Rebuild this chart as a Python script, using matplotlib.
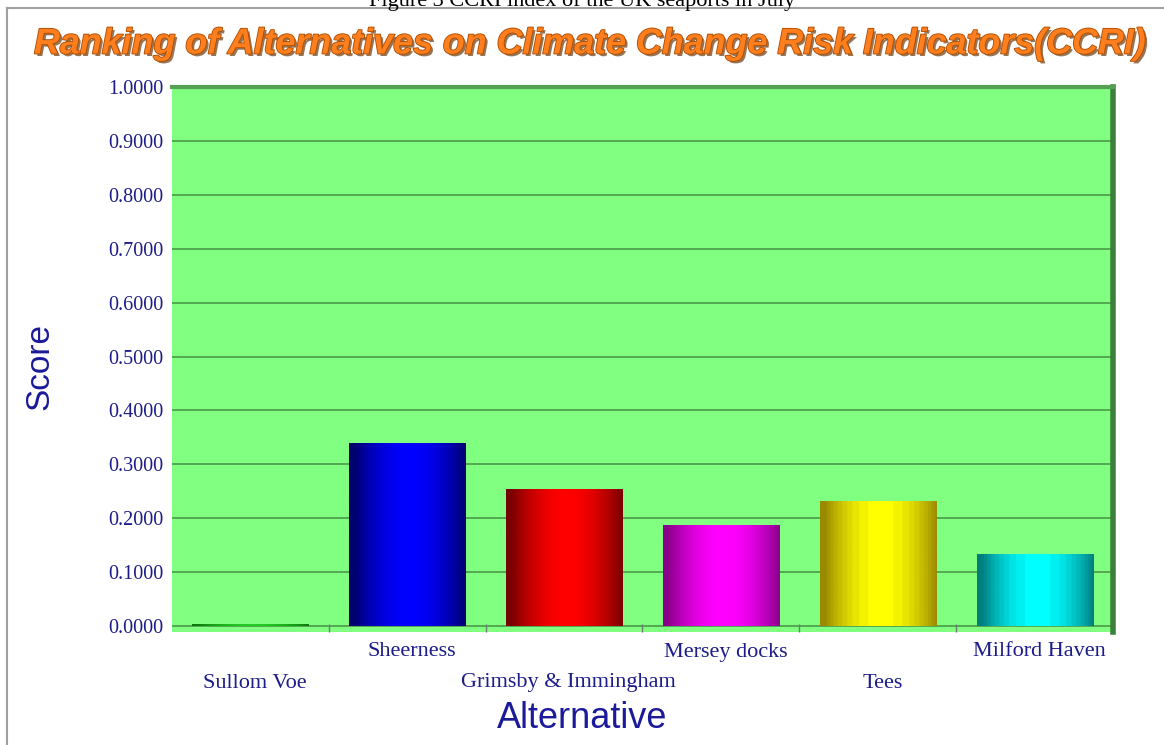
import numpy as np
import matplotlib
matplotlib.use("Agg")
import matplotlib.pyplot as plt
import matplotlib.patheffects as pe
import matplotlib.transforms as mtransforms
from matplotlib.colors import LinearSegmentedColormap

categories = ["Sullom Voe", "Sheerness", "Grimsby & Immingham", "Mersey docks", "Tees", "Milford Haven"]
scores = [0.004, 0.340, 0.255, 0.188, 0.232, 0.133]
yticks = [0.0, 0.1, 0.2, 0.3, 0.4, 0.5, 0.6, 0.7, 0.8, 0.9, 1.0]

bar_dark = ["#0a7a0a", "#00006e", "#780000", "#8a008a", "#9a8a00", "#007e80"]
bar_bright = ["#22cc22", "#0000ff", "#ff0000", "#ff00ff", "#ffff00", "#00ffff"]
banded = [False, False, False, False, True, True]

W, H = 1164, 745
fig = plt.figure(figsize=(W / 100, H / 100), dpi=100)
fig.patch.set_facecolor("white")

# outer frame
fig.add_artist(plt.Line2D([7 / W, 7 / W], [0, 1 - 8 / H], color="#a0a0a0", lw=1.5))
fig.add_artist(plt.Line2D([7 / W, 1], [1 - 8 / H, 1 - 8 / H], color="#a0a0a0", lw=1.5))

# caption cut off at the top (as in the reference)
fig.text(0.5, 1 - 1 / H, "Figure 3 CCRI index of the UK seaports in July", ha="center", va="center",
         fontsize=16, family="Liberation Serif", color="black")

left, right, top, bottom = 172, 1113, 87, 632
ax = fig.add_axes([left / W, 1 - bottom / H, (right - left) / W, (bottom - top) / H])
ax.set_facecolor("#80ff80")
ax.set_yticks(yticks)
ax.set_yticklabels([f"{v:.4f}" for v in yticks], family="Liberation Serif", fontsize=14.5, color="#1c1c8a")
ax.tick_params(axis="y", length=0, pad=6)
ax.grid(axis="y", color="#4a9a4a", lw=1.2)
ax.set_axisbelow(True)

for s in ["left", "bottom"]:
    ax.spines[s].set_visible(False)
ax.spines["right"].set_color("#3c803c")
ax.spines["right"].set_linewidth(4)
ax.spines["top"].set_color("#55a055")
ax.spines["top"].set_linewidth(3)

x = np.arange(len(categories))
bars = ax.bar(x, scores, width=0.74, color=bar_bright, zorder=2, linewidth=0)

u = np.linspace(0, 1, 400)
prof = np.clip(np.cos((u - 0.52) * np.pi * 1.05), 0, 1) ** 0.9
for i, b in enumerate(bars):
    p = prof.copy()
    if banded[i]:
        p = np.round(p * 9) / 9
    cmap = LinearSegmentedColormap.from_list("g%d" % i, [bar_dark[i], bar_bright[i]])
    img = ax.imshow(p[None, :], cmap=cmap, vmin=0, vmax=1, aspect="auto",
                    extent=[b.get_x(), b.get_x() + b.get_width(), 0, b.get_height()],
                    zorder=3, interpolation="bilinear")
    img.set_clip_path(b)
ax.set_xlim(-0.5, len(categories) - 0.5)
ax.set_ylim(-0.011, 1.0)

# category boundary ticks
ax.set_xticks(np.arange(0.5, len(categories) - 0.5, 1.0), minor=True)
ax.tick_params(axis="x", which="minor", direction="in", length=6, color="#777777", width=1)
ax.set_xticks(x)
ax.set_xticklabels([])
ax.tick_params(axis="x", which="major", length=0)

trans = mtransforms.blended_transform_factory(ax.transData, fig.transFigure)
for i, c in enumerate(categories):
    ypix = 683 if i % 2 == 0 else 652
    ax.text(i + 0.03, 1 - ypix / H, c, transform=trans,
            ha="center", va="center", family="Liberation Serif", fontsize=16, color="#1c1c8a")

fig.text(582 / W, 1 - 719 / H, "Alternative", ha="center", va="center",
         family="Liberation Sans", fontsize=26, color="#1a1a9a")
fig.text(40 / W, 1 - 366 / H, "Score", ha="center", va="center", rotation=90,
         family="Liberation Sans", fontsize=24, color="#1a1a9a")

fig.text(591 / W, 1 - 44 / H, "Ranking of Alternatives on Climate Change Risk Indicators(CCRI)",
         ha="center", va="center", family="Liberation Sans", fontsize=25.8,
         fontweight="bold", fontstyle="italic", color="#ff7f1e",
         path_effects=[pe.withSimplePatchShadow(offset=(1.8, -1.8), shadow_rgbFace="#6b3a10", alpha=0.7),
                       pe.withStroke(linewidth=1.3, foreground="#b04e00")])

fig.savefig("out.png", dpi=100)
